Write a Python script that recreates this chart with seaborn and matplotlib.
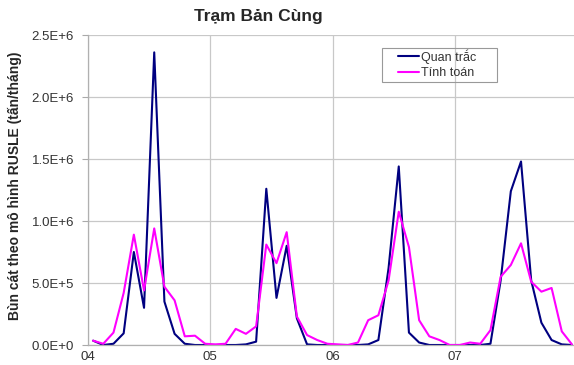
import numpy as np
import pandas as pd
import matplotlib
matplotlib.use("Agg")
import matplotlib.pyplot as plt
from matplotlib.patches import Rectangle
import seaborn as sns

# ---- data (units: tấn/tháng) ----
months = list(range(48))  # Jan 2004 .. Dec 2007
quan_trac = [0.035, 0.0, 0.01, 0.094, 0.75, 0.30, 2.36, 0.35, 0.09, 0.01, 0.0, 0.0,
             0.0, 0.0, 0.0, 0.005, 0.027, 1.26, 0.38, 0.80, 0.215, 0.005, 0.0, 0.0,
             0.0, 0.0, 0.0, 0.005, 0.04, 0.62, 1.44, 0.10, 0.02, 0.0, 0.0, 0.0,
             0.0, 0.0, 0.0, 0.01, 0.52, 1.24, 1.48, 0.52, 0.18, 0.04, 0.005, 0.0]
tinh_toan = [0.035, 0.01, 0.10, 0.42, 0.89, 0.44, 0.94, 0.47, 0.36, 0.07, 0.075, 0.01,
             0.005, 0.01, 0.13, 0.09, 0.15, 0.81, 0.66, 0.91, 0.23, 0.08, 0.04, 0.01,
             0.005, 0.0, 0.02, 0.20, 0.24, 0.52, 1.075, 0.79, 0.20, 0.07, 0.04, 0.0,
             0.0, 0.02, 0.01, 0.12, 0.55, 0.645, 0.82, 0.51, 0.43, 0.46, 0.11, 0.005]
series_names = ["Quan trắc", "Tính toán"]
year_ticks = [0, 12, 24, 36]
year_labels = ["04", "05", "06", "07"]
y_ticks = [0, 0.5e6, 1.0e6, 1.5e6, 2.0e6, 2.5e6]
y_labels = ["0.0E+0", "5.0E+5", "1.0E+6", "1.5E+6", "2.0E+6", "2.5E+6"]
title = "Trạm Bản Cùng"
ylabel = "Bùn cát theo mô hình RUSLE (tấn/tháng)"

df = pd.DataFrame({
    "x": [m + 0.5 for m in months] * 2,
    "y": [v * 1e6 for v in quan_trac] + [v * 1e6 for v in tinh_toan],
    "series": [series_names[0]] * len(months) + [series_names[1]] * len(months),
})

sns.set_style("white")
plt.rcParams["font.family"] = ["Liberation Sans", "DejaVu Sans"]

W, H = 574, 365
fig = plt.figure(figsize=(W / 100, H / 100), dpi=100)
ax_l, ax_r, ax_t, ax_b = 88, 574, 35, 345
ax = fig.add_axes([ax_l / W, 1 - ax_b / H, (ax_r - ax_l) / W, (ax_b - ax_t) / H])

sns.lineplot(data=df, x="x", y="y", hue="series",
             palette={series_names[0]: "#000080", series_names[1]: "#FF00FF"},
             linewidth=1.5, ax=ax, legend=True, sort=False)

ax.set_xlim(0, 47.7)
ax.set_ylim(0, 2.5e6)
ax.set_xticks(year_ticks)
ax.set_xticklabels(year_labels, fontsize=9.5, color="#333333")
ax.set_yticks(y_ticks)
ax.set_yticklabels(y_labels, fontsize=9.5, color="#333333")
ax.tick_params(axis="y", length=4, width=0.8, color="#aaaaaa", pad=6, left=True)
ax.tick_params(axis="x", length=0, pad=4.5)
ax.grid(True, color="#c8c8c8", linewidth=0.9)
ax.set_axisbelow(True)
for s in ["top", "right"]:
    ax.spines[s].set_visible(False)
for s in ["left", "bottom"]:
    ax.spines[s].set_color("#b0b0b0")
    ax.spines[s].set_linewidth(0.9)
ax.set_xlabel("")
ax.set_ylabel("")

fig.text(15 / W, 1 - 186 / H, ylabel, fontsize=10, fontweight="bold",
         rotation=90, ha="center", va="center")
fig.text(258 / W, 1 - 17 / H, title, fontsize=12.5, fontweight="bold",
         ha="center", va="center")


def ax_frac(px, py):
    return ((px - ax_l) / (ax_r - ax_l), (ax_b - py) / (ax_b - ax_t))


leg = ax.legend(loc="upper left", bbox_to_anchor=ax_frac(398, 49),
                fontsize=9, frameon=False, handlelength=1.7,
                handletextpad=0.15, borderpad=0, labelspacing=0.3,
                borderaxespad=0)
for t in leg.get_texts():
    t.set_color("#333333")

x0, y0 = ax_frac(382, 82)
x1, y1 = ax_frac(497, 48)
ax.add_patch(Rectangle((x0, y0), x1 - x0, y1 - y0, transform=ax.transAxes,
                       fill=False, edgecolor="#999999", linewidth=0.8,
                       zorder=5, clip_on=False))

fig.savefig("out.png", dpi=100)
